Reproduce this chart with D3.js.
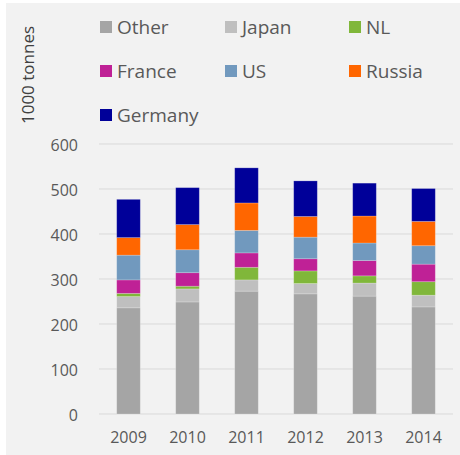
<!DOCTYPE html>
<html><head><meta charset="utf-8">
<script src="https://cdn.jsdelivr.net/npm/d3@7"></script>
<style>html,body{margin:0;padding:0;background:#fff;}svg{display:block;}</style>
</head><body>
<svg id="chart" width="460" height="455"></svg>
<script>
const years = ["2009","2010","2011","2012","2013","2014"];
const seriesNames = ["Other","Japan","NL","France","US","Russia","Germany"];
const seriesColors = ["#a5a5a5","#bfbfbf","#80b73a","#bf2196","#7199be","#ff6600","#000099"];
const Other   = [236,249,273,267,262,238];
const Japan   = [25,29,25,23,29,26];
const NL      = [7,6,28,28,16,30];
const France  = [30,30,32,27,34,39];
const US      = [55,51,50,48,39,41];
const Russia  = [39,56,61,46,60,54];
const Germany = [85,82,78,79,73,73];
const yTicks = [0,100,200,300,400,500,600];
const yTitle = "1000 tonnes";

const seriesValues = [Other,Japan,NL,France,US,Russia,Germany];
const rows = years.map((y,i)=>{const r={year:y};seriesNames.forEach((s,j)=>r[s]=seriesValues[j][i]);return r;});
const stacked = d3.stack().keys(seriesNames)(rows);

const svg = d3.select("#chart");
const font = "'Open Sans', 'Noto Sans', sans-serif";
svg.append("rect").attr("x",6).attr("y",3).attr("width",454).attr("height",452).attr("fill","#f2f2f2");

const x = d3.scaleBand().domain(years).range([99,453]).paddingInner(0.6).paddingOuter(0.3);
const y = d3.scaleLinear().domain([0,600]).range([414,144]);

// gridlines
svg.append("g").selectAll("line").data(yTicks).join("line")
  .attr("x1",99).attr("x2",453).attr("y1",d=>y(d)).attr("y2",d=>y(d))
  .attr("stroke","#d9d9d9").attr("stroke-width",1);

// y axis labels
const yAxis = svg.append("g").attr("transform","translate(80,0)")
  .call(d3.axisLeft(y).tickValues(yTicks).tickSize(0).tickPadding(2));
yAxis.select(".domain").remove();
yAxis.selectAll("text").attr("font-family",font).attr("font-size",16).attr("fill","#595959").attr("dy","0.4em");

// x axis labels
const xAxis = svg.append("g").attr("transform","translate(0,414)")
  .call(d3.axisBottom(x).tickSize(0).tickPadding(18));
xAxis.select(".domain").remove();
xAxis.selectAll("text").attr("font-family",font).attr("font-size",16).attr("fill","#595959");

// bars
svg.append("g").selectAll("g").data(stacked).join("g")
  .attr("fill",(d,i)=>seriesColors[i])
  .selectAll("rect").data(d=>d).join("rect")
  .attr("x",d=>x(d.data.year)).attr("width",x.bandwidth())
  .attr("y",d=>y(d[1])).attr("height",d=>y(d[0])-y(d[1]))
  .attr("stroke","rgba(255,255,255,0.25)").attr("stroke-width",0.8);

// y title
svg.append("text").attr("transform","translate(34,75) rotate(-90)")
  .attr("text-anchor","middle").attr("font-family",font).attr("font-size",17).attr("fill","#404040")
  .text(yTitle);

// legend
const legCols = [100,225,349], legRows = [27,71,115];
const leg = svg.append("g").selectAll("g").data(seriesNames).join("g")
  .attr("transform",(d,i)=>`translate(${legCols[i%3]},${legRows[Math.floor(i/3)]})`);
leg.append("rect").attr("x",0).attr("y",-6).attr("width",12).attr("height",12).attr("fill",(d,i)=>seriesColors[i]);
leg.append("text").attr("x",17).attr("y",0).attr("dy","0.35em").attr("font-family",font).attr("font-size",19)
  .attr("fill","#595959").text(d=>d);
</script>
</body></html>
